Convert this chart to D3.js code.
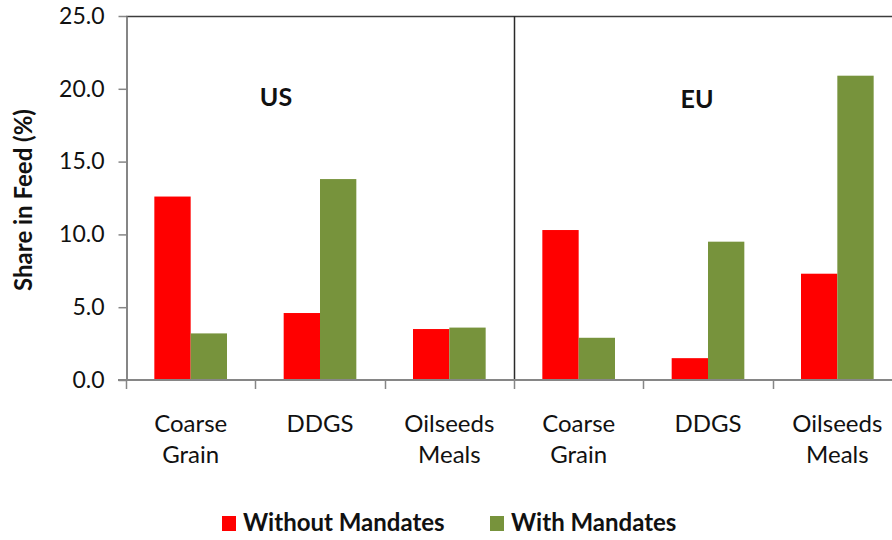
<!DOCTYPE html>
<html>
<head>
<meta charset="utf-8">
<script src="https://cdn.jsdelivr.net/npm/d3@7"></script>
<style>
  body { margin: 0; background: #fff; }
  svg text { font-family: Lato, "Open Sans", sans-serif; fill: #111; }
</style>
</head>
<body>
<svg id="chart"></svg>
<script>
// data
const regions = ['US', 'EU'];
const feeds = ['Coarse Grain', 'DDGS', 'Oilseeds Meals'];
const series = ['Without Mandates', 'With Mandates'];
const withoutMandates = [12.6, 4.6, 3.5, 10.3, 1.5, 7.3];
const withMandates = [3.2, 13.8, 3.6, 2.9, 9.5, 20.9];
const yTicks = [0, 5, 10, 15, 20, 25];
const colors = ['#ff0000', '#77933c'];

const W = 892, H = 540;
const plotL = 126, plotR = 902, plotT = 16, plotB = 380;

const svg = d3.select('#chart').attr('width', W).attr('height', H);

// one category per region/feed pair
const keys = [];
regions.forEach(r => feeds.forEach(f => keys.push(r + '|' + f)));
const rows = keys.map((k, i) => ({key: k, values: [withoutMandates[i], withMandates[i]]}));

const x0 = d3.scaleBand().domain(keys).range([plotL, plotR]).padding(0);
const x1 = d3.scaleBand().domain(series).range([0, x0.bandwidth()])
    .paddingInner(0).paddingOuter(0.78);
const y = d3.scaleLinear().domain([0, 25]).range([plotB, plotT]);
const color = d3.scaleOrdinal().domain(series).range(colors);

// bars
svg.append('g')
    .selectAll('g')
    .data(rows)
    .join('g')
    .attr('transform', d => `translate(${x0(d.key)},0)`)
    .selectAll('rect')
    .data(d => series.map((s, i) => ({s, v: d.values[i]})))
    .join('rect')
    .attr('x', d => x1(d.s))
    .attr('width', x1.bandwidth())
    .attr('y', d => y(d.v))
    .attr('height', d => y(0) - y(d.v))
    .attr('fill', d => color(d.s));

// top border and region separator
svg.append('line')
    .attr('x1', plotL).attr('x2', plotR)
    .attr('y1', plotT + 0.5).attr('y2', plotT + 0.5)
    .attr('stroke', '#3c3c3c').attr('stroke-width', 1.5);
const sepX = Math.round(x0(keys[feeds.length])) + 0.5;
svg.append('line')
    .attr('x1', sepX).attr('x2', sepX)
    .attr('y1', plotT).attr('y2', plotB)
    .attr('stroke', '#2a2a2a').attr('stroke-width', 1.5);

// y axis
const yAxis = svg.append('g')
    .attr('transform', `translate(${plotL + 0.5},0)`)
    .call(d3.axisLeft(y).tickValues(yTicks).tickFormat(d3.format('.1f'))
        .tickSize(8).tickSizeOuter(0).tickPadding(14));
yAxis.select('.domain').attr('stroke', '#868686').attr('stroke-width', 2);
yAxis.selectAll('.tick line').attr('stroke', '#868686').attr('stroke-width', 1.5);
yAxis.selectAll('.tick text').attr('font-size', 23).attr('fill', '#111')
    .style('font-family', 'Lato, sans-serif');

// x axis: line + ticks at category edges
const xAxis = svg.append('g').attr('transform', `translate(0,${plotB})`);
xAxis.append('line')
    .attr('x1', plotL - 8).attr('x2', plotR)
    .attr('stroke', '#868686').attr('stroke-width', 2);
xAxis.selectAll('.edge')
    .data(keys.concat(['end']))
    .join('line')
    .attr('class', 'edge')
    .attr('x1', d => d === 'end' ? plotR : Math.round(x0(d)) + 0.5)
    .attr('x2', d => d === 'end' ? plotR : Math.round(x0(d)) + 0.5)
    .attr('y1', 0).attr('y2', 9)
    .attr('stroke', '#868686').attr('stroke-width', 1.5);

// category labels, two lines
const lbl = svg.append('g').selectAll('text')
    .data(keys)
    .join('text')
    .attr('text-anchor', 'middle')
    .attr('font-size', 24)
    .attr('transform', d => `translate(${x0(d) + x0.bandwidth() / 2},${plotB + 52})`);
lbl.selectAll('tspan')
    .data(d => d.split('|')[1].split(' '))
    .join('tspan')
    .attr('x', 0)
    .attr('y', (d, i) => i * 31)
    .text(d => d);

// region labels
svg.append('text').attr('x', 276).attr('y', 106)
    .attr('text-anchor', 'middle').attr('font-size', 25).attr('font-weight', 'bold')
    .text(regions[0]);
svg.append('text').attr('x', 697).attr('y', 108)
    .attr('text-anchor', 'middle').attr('font-size', 25).attr('font-weight', 'bold')
    .text(regions[1]);

// y title
svg.append('text')
    .attr('transform', 'translate(32,200) rotate(-90)')
    .attr('text-anchor', 'middle')
    .attr('font-size', 24).attr('font-weight', 'bold')
    .text('Share in Feed (%)');

// legend
const legendX = [222, 490];
const legend = svg.append('g').selectAll('g')
    .data(series)
    .join('g')
    .attr('transform', (d, i) => `translate(${legendX[i]},516)`);
legend.append('rect').attr('width', 14).attr('height', 15).attr('fill', d => color(d));
legend.append('text')
    .attr('x', 21).attr('y', 15)
    .attr('font-size', 24).attr('font-weight', 'bold')
    .text(d => d);
</script>
</body>
</html>
